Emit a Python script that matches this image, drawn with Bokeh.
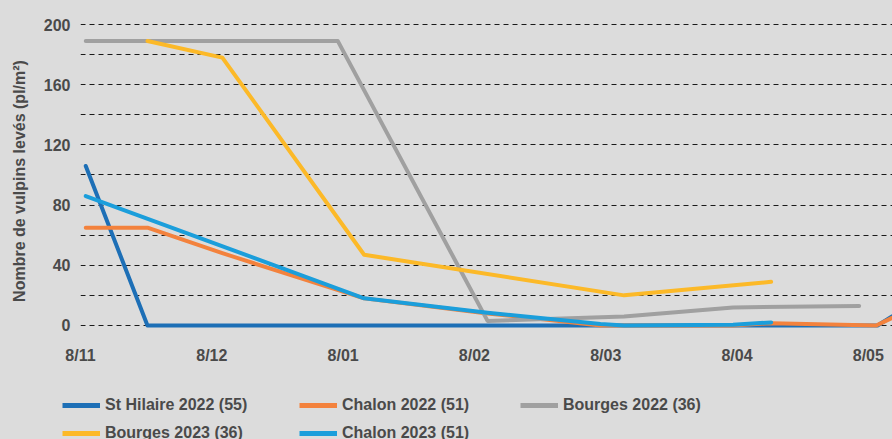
from bokeh.plotting import figure
from bokeh.layouts import column
from bokeh.models import Range1d, FixedTicker, Legend, LegendItem, GlobalInlineStyleSheet
from bokeh.embed import file_html
from bokeh.resources import INLINE

# ---- data ----
tick_positions = [0, 1, 2, 3, 4, 5, 6]
tick_labels = ["8/11", "8/12", "8/01", "8/02", "8/03", "8/04", "8/05"]

x_sthilaire22 = [0.04, 0.51, 6.07, 6.18]
y_sthilaire22 = [106, 0, 0, 6]

x_chalon22 = [0.04, 0.51, 1.08, 2.16, 3.10, 3.96, 4.97, 5.26, 6.06, 6.18]
y_chalon22 = [65, 65, 48, 18, 8, 0, 0, 1.5, 0, 5]

x_bourges22 = [0.04, 1.96, 3.10, 4.14, 4.97, 5.93]
y_bourges22 = [189, 189, 3, 6, 12, 13]

x_bourges23 = [0.51, 1.08, 2.16, 4.14, 5.26]
y_bourges23 = [189, 178, 47, 20, 29]

x_chalon23 = [0.04, 2.16, 3.10, 3.96, 4.14, 4.97, 5.26]
y_chalon23 = [86, 18, 8.5, 1, 0, 0.5, 2]

series_names = ["St Hilaire 2022 (55)", "Chalon 2022 (51)", "Bourges 2022 (36)",
                "Bourges 2023 (36)", "Chalon 2023 (51)"]
series_x = [x_sthilaire22, x_chalon22, x_bourges22, x_bourges23, x_chalon23]
series_y = [y_sthilaire22, y_chalon22, y_bourges22, y_bourges23, y_chalon23]
series_colors = ["#1d6fb6", "#f3823d", "#a0a0a0", "#fcb928", "#1b9edb"]

BG = "#dcdcdc"
TXT = "#4a4a4a"
FONT = "Liberation Sans"
W = 892

# ---- main plot ----
p = figure(width=W, height=372, output_backend="svg", toolbar_location=None,
           x_range=Range1d(0, 6.184), y_range=Range1d(-12, 204),
           min_border_left=80, min_border_right=0, min_border_top=18, min_border_bottom=29)
p.frame_align = False
p.background_fill_color = BG
p.border_fill_color = BG
p.outline_line_color = None

for xs, ys, col in zip(series_x, series_y, series_colors):
    p.line(xs, ys, line_color=col, line_width=4, line_cap="round", line_join="round")

p.xgrid.grid_line_color = None
p.ygrid.ticker = FixedTicker(ticks=list(range(0, 201, 20)))
p.ygrid.grid_line_color = "#1a1a1a"
p.ygrid.grid_line_dash = "5 4"
p.ygrid.grid_line_width = 1

for ax in (p.xaxis[0], p.yaxis[0]):
    ax.axis_line_color = None
    ax.major_tick_line_color = None
    ax.minor_tick_line_color = None
    ax.major_tick_in = 0
    ax.major_tick_out = 0
    ax.major_label_text_font = FONT
    ax.major_label_text_font_style = "bold"
    ax.major_label_text_font_size = "16px"
    ax.major_label_text_color = TXT

p.xaxis.ticker = FixedTicker(ticks=tick_positions)
p.xaxis.major_label_overrides = {t: l for t, l in zip(tick_positions, tick_labels)}
p.xaxis.major_label_standoff = 3

p.yaxis.ticker = FixedTicker(ticks=[0, 40, 80, 120, 160, 200])
p.yaxis.major_label_standoff = 10
p.yaxis.axis_label = "Nombre de vulpins levés (pl/m²)"
p.yaxis.axis_label_text_font = FONT
p.yaxis.axis_label_text_font_style = "bold"
p.yaxis.axis_label_text_font_size = "16px"
p.yaxis.axis_label_text_color = TXT
p.yaxis.axis_label_standoff = 13

# ---- legend strip (series drawn out of view, only the legend shows) ----
lg = figure(width=W, height=67, output_backend="svg", toolbar_location=None,
            x_range=Range1d(1000, 1001), y_range=Range1d(1000, 1001),
            x_axis_location=None, y_axis_location=None,
            min_border=0, min_border_left=0, min_border_right=0,
            min_border_top=0, min_border_bottom=0)
lg.frame_align = False
lg.background_fill_color = BG
lg.border_fill_color = BG
lg.outline_line_color = None
lg.xgrid.visible = False
lg.ygrid.visible = False

lg_r = {}
for name, xs, ys, col in zip(series_names, series_x, series_y, series_colors):
    lg_r[name] = lg.line(xs, ys, line_color=col, line_width=5)

columns = [
    (["St Hilaire 2022 (55)", "Bourges 2023 (36)"], 62, -4),
    (["Chalon 2022 (51)", "Chalon 2023 (51)"], 299, -4),
    (["Bourges 2022 (36)"], 520, 24),
]
for names, vx, vy in columns:
    leg = Legend(items=[LegendItem(label=n, renderers=[lg_r[n]]) for n in names],
                 location=(vx, vy), orientation="vertical",
                 padding=0, margin=0, spacing=8,
                 glyph_width=38, glyph_height=20, label_height=20,
                 label_standoff=5,
                 label_text_font=FONT, label_text_font_style="bold",
                 label_text_font_size="16px", label_text_color=TXT,
                 background_fill_alpha=0, border_line_color=None)
    lg.add_layout(leg, "center")

layout = column(p, lg, spacing=0,
                styles={"background-color": BG},
                stylesheets=[GlobalInlineStyleSheet(css="body { background-color: #dcdcdc; }")])
open("out.html", "w").write(file_html(layout, INLINE))
